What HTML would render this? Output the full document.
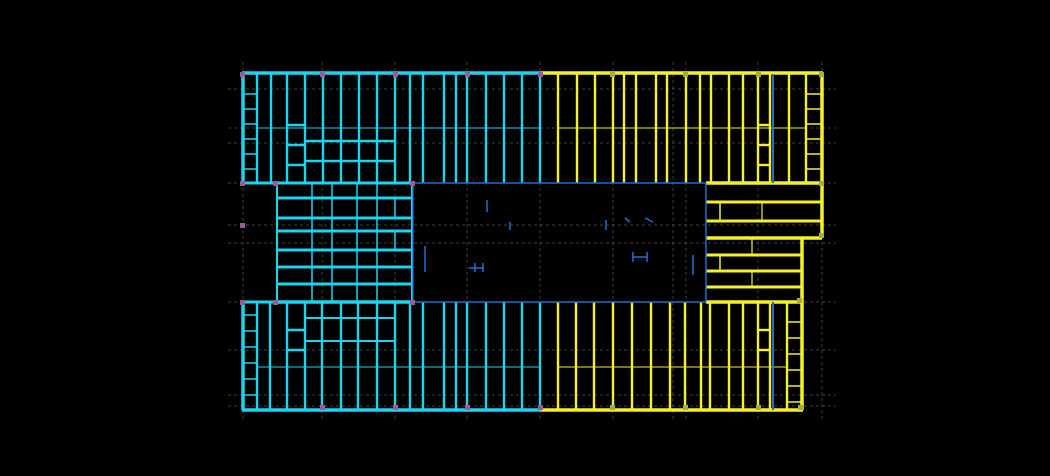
<!DOCTYPE html>
<html><head><meta charset="utf-8"><style>
html,body{margin:0;padding:0;background:#000;width:1050px;height:476px;overflow:hidden}
svg{display:block}
</style></head><body>
<svg id="s" width="1050" height="476" viewBox="0 0 1050 476" xmlns="http://www.w3.org/2000/svg">
<rect width="1050" height="476" fill="#000"/>
<g id="grid" stroke="#555" stroke-width="0.7" stroke-dasharray="3,3"></g>
<g id="cy" stroke="#1ad4f0" stroke-width="2.4" fill="none"></g>
<g id="yl" stroke="#f4f02a" stroke-width="2.4" fill="none"></g>
<g id="bl" stroke="#1f6fd0" stroke-width="1.5" fill="none"></g>
<g id="pk" fill="#9a5a9a"></g>
</svg>
<script>
const NS="http://www.w3.org/2000/svg";
function L(g,x1,y1,x2,y2,w){const e=document.createElementNS(NS,"line");e.setAttribute("x1",x1);e.setAttribute("y1",y1);e.setAttribute("x2",x2);e.setAttribute("y2",y2);if(w)e.setAttribute("stroke-width",w);document.getElementById(g).appendChild(e);}
function R(g,x,y,w,h,c){const e=document.createElementNS(NS,"rect");e.setAttribute("x",x);e.setAttribute("y",y);e.setAttribute("width",w);e.setAttribute("height",h);if(c)e.setAttribute("fill",c);document.getElementById(g).appendChild(e);}
[89,128,143,183,225,243,302,350,395,406].forEach(y=>L("grid",228,y,836,y));
[243,322,395,467,540,613,673,686,758,822].forEach(x=>L("grid",x,62,x,420));
const tv=[257,271,287,305,323,341,359,377,395,410,423,444,456,467,486,504,522,540,558,577,595,613,624,636,656,667,686,700,711,729,743,758,770,789,806];
tv.forEach(x=>L(x<541?"cy":"yl",x,74,x,183));
L("bl",773,74,773,183,2);
L("cy",257,128,540,128,1);L("yl",558,128,806,128,1);
[141,161].forEach(y=>L("cy",305,y,395,y));
[125,145,165].forEach(y=>L("cy",287,y,305,y));
[125,145,165].forEach(y=>L("yl",758,y,770,y));
for(let y=94;y<183;y+=15)L("cy",243,y,257,y,1.5);
for(let y=94;y<183;y+=15)L("yl",806,y,822,y,1.5);
L("cy",242,73,541,73,3.5);L("yl",541,73,823,73,3.5);
L("cy",243,73,243,184,3.5);L("yl",822,73,822,238,3.5);
L("cy",243,183,413,183,3);L("yl",706,183,822,183,3.5);
L("bl",413,183,706,183,1.5);
[198,218,231,250,267,284].forEach(y=>L("cy",277,y,412,y,3));
L("cy",277,302,412,302,3.5);
L("cy",277,183,277,302,2);L("cy",412,183,412,302,2);
[312,332,357,377].forEach(x=>{L("cy",x,183,x,302,1.5);});
L("cy",395,198,395,218,1.5);L("cy",395,231,395,250,1.5);
[202,221].forEach(y=>L("yl",706,y,822,y,3));
L("yl",706,238,822,238,3.5);
[255,271,287].forEach(y=>L("yl",706,y,802,y,3));
L("yl",706,302,802,302,3.5);
L("yl",802,238,802,410,3.5);
L("bl",706,183,706,302,1.5);
L("yl",720,202,720,221,1.5);L("yl",762,202,762,221,1.2);L("yl",752,238,752,255,1.2);L("yl",720,255,720,271,1.5);L("yl",752,271,752,287,1.2);
L("bl",413,302,706,302,1.5);L("bl",413,183,413,302,1.2);
const bv=[257,270,287,305,322,341,358,377,395,410,423,444,456,467,486,504,522,540,558,576,594,613,632,651,670,685,701,710,729,743,758,770,787];
bv.forEach(x=>L(x<541?"cy":"yl",x,302,x,410));
L("bl",773,302,773,410,2);
L("cy",243,302,243,410,3.5);
L("cy",242,410,541,410,3.5);L("yl",541,410,803,410,3.5);
L("cy",243,302,413,302,3);
[318,341].forEach(y=>L("cy",305,y,395,y,2));
[330,350].forEach(y=>L("cy",287,y,305,y));
[330,350].forEach(y=>L("yl",758,y,770,y));
L("cy",257,367,540,367,1);L("yl",558,367,787,367,1);
for(let y=315;y<410;y+=16)L("cy",243,y,257,y,1.5);
for(let y=322;y<410;y+=16)L("yl",787,y,802,y,1.5);
[[487,200,487,212],[510,222,510,230],[606,220,606,230],[425,246,425,272],[475,263,475,272],[483,263,483,272],[633,252,633,262],[647,252,647,262],[693,255,693,275],[625,218,630,222],[645,218,653,222]].forEach(a=>L("bl",...a,1.5));
L("bl",469,268,484,268,1.5);L("bl",632,257,648,257,1.5);
[[240,72],[320,72],[393,72],[465,72],[538,72],[240,181],[240,223],[273,181],[410,181],[273,300],[410,300],[240,300],[320,405],[393,405],[465,405],[538,405]].forEach(p=>R("pk",p[0],p[1],5,5));
[[610,72],[683,72],[756,72],[819,72],[819,181],[819,233],[797,298],[610,405],[683,405],[756,405],[798,405]].forEach(p=>R("pk",p[0],p[1],5,5,"#a0b040"));
</script>
</body></html>
